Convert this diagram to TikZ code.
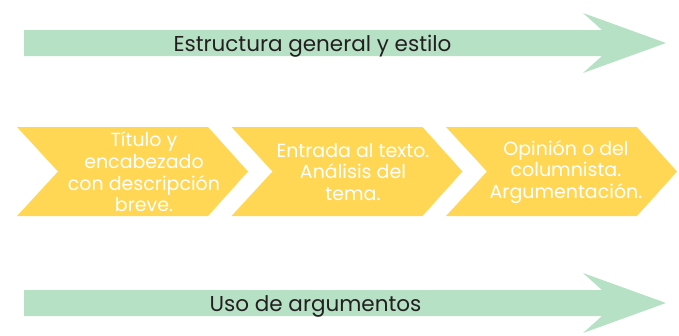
\documentclass[tikz,border=0pt]{standalone}
\usepackage{fontspec}
\setmainfont{Poppins}

\definecolor{verde}{RGB}{183,225,196}
\definecolor{amarillo}{RGB}{255,215,85}
\definecolor{tinta}{RGB}{35,31,32}

\begin{document}
\begin{tikzpicture}[x=1pt,y=-1pt,
			flecha/.style={fill=verde},
			paso/.style={fill=amarillo},
			rotulo/.style={text=tinta,inner sep=0pt,anchor=base,font=\fontsize{21.5}{24}\selectfont},
			etiqueta/.style={text=white,align=center,inner sep=0pt,font=\fontsize{19}{21.7}\selectfont}]
			\useasboundingbox (0,0) rectangle (679,335);
			% flechas verdes
			\foreach \y/\dx/\nombre/\texto in {0/312.5/estructura/Estructura general y estilo,
					260/315.5/uso/Uso de argumentos}{
				\fill[flecha] (24,30+\y) -- (602,30+\y) -- (583,13+\y) -- (666,43+\y)
					-- (583,73+\y) -- (602,56+\y) -- (24,56+\y) -- cycle;
				\node[rotulo] (\nombre) at (\dx,51.5+\y) {\texto};
			}
			% pasos amarillos
			\foreach \x/\dx/\nombre/\texto in {17/127/titulo/{Título y\\encabezado\\con descripción\\breve.},
					231.5/121.5/entrada/{Entrada al texto.\\Análisis del\\tema.},
					446/120/opinion/{Opinión o del\\columnista.\\Argumentación.}}{
				\fill[paso] (\x,127) -- (\x+191,127) -- (\x+231,171.5) -- (\x+191,216)
					-- (\x,216) -- (\x+41,171.5) -- cycle;
				\node[etiqueta] (\nombre) at (\x+\dx,172) {\texto};
			}
\end{tikzpicture}
\end{document}
